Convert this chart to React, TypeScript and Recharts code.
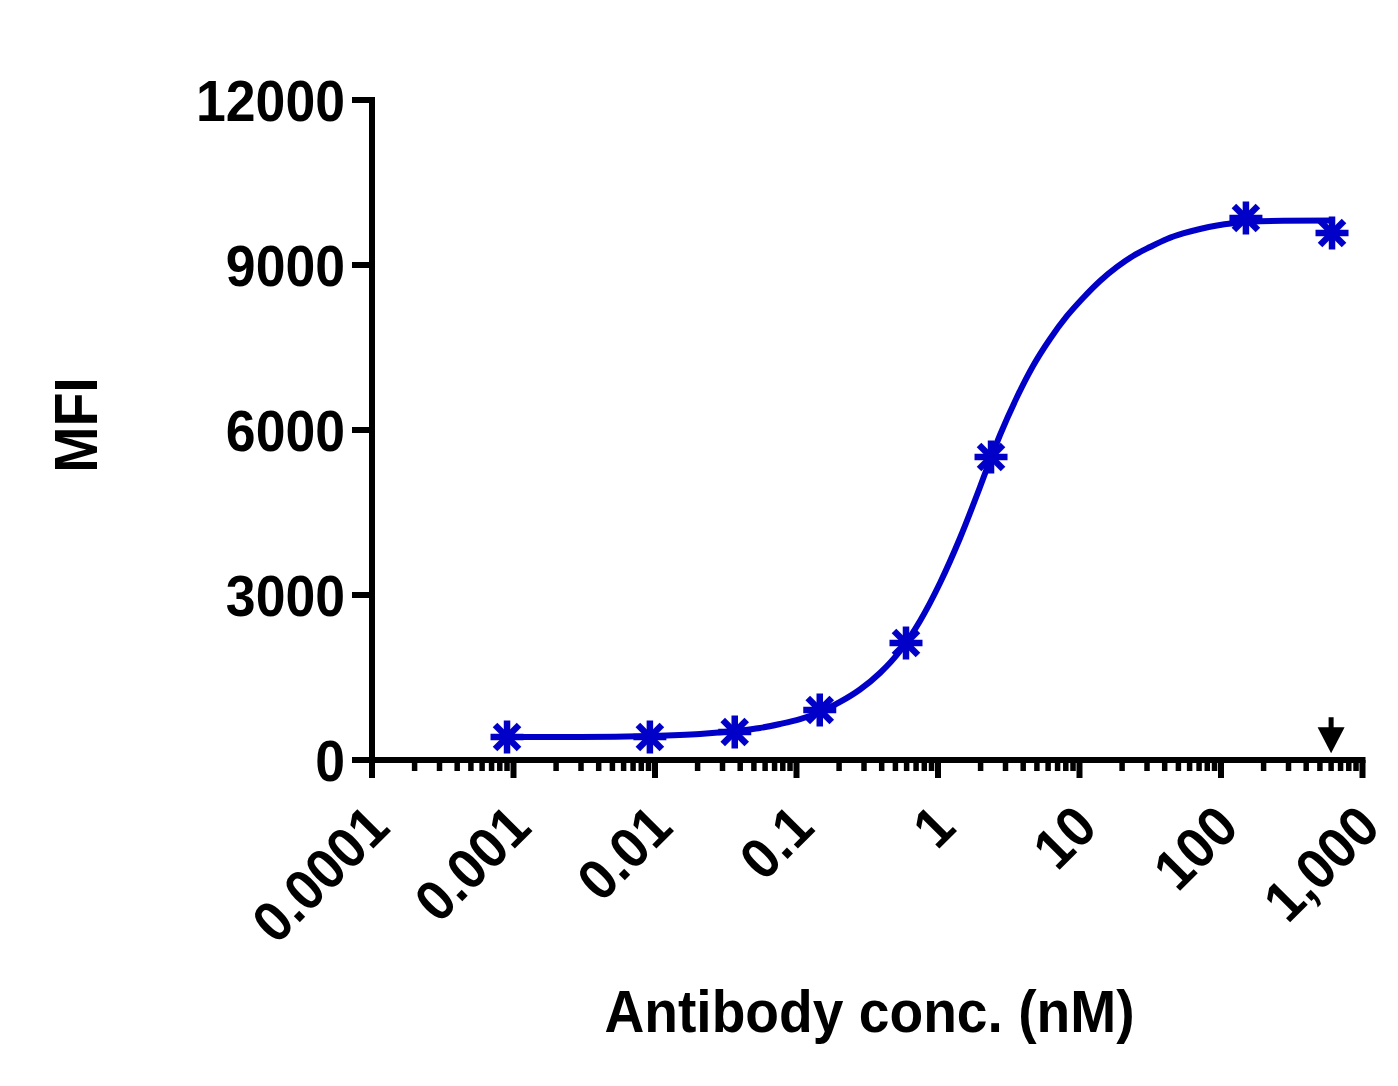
import React from "react";
import { ComposedChart, Line, Scatter, XAxis, YAxis, Label } from "recharts";

// Data
const pointConc = [0.0009, 0.0092, 0.0366, 0.146, 0.594, 2.37, 150, 609];
const pointMFI = [418, 418, 509, 909, 2127, 5509, 9855, 9582];

// Fitted curve
const curveConc = [
  0.0009, 0.00295, 0.00922, 0.0208, 0.0368, 0.0552, 0.0764, 0.106, 0.147, 0.203,
  0.281, 0.389, 0.539, 0.746, 1.033, 1.431, 1.981, 2.37, 2.743, 3.617, 4.692,
  6.187, 8.16, 10.59, 13.96, 18.41, 23.88, 31.49, 41.53, 53.87, 71.06, 93.69,
  121.6, 160.3, 274.3, 639,
];
const curveMFI = [
  418, 418, 436, 473, 527, 582, 655, 745, 873, 1055, 1282, 1582, 1982, 2527,
  3218, 4036, 4964, 5500, 5909, 6600, 7164, 7655, 8073, 8400, 8709, 8964, 9164,
  9327, 9473, 9573, 9655, 9718, 9758, 9785, 9804, 9809,
];

const isotypeConc = [600];
const isotypeMFI = [450];

const xMajorTicks = [0.0001, 0.001, 0.01, 0.1, 1, 10, 100, 1000];
const xMajorLabels = ["0.0001", "0.001", "0.01", "0.1", "1", "10", "100", "1,000"];
const minorMultipliers = [2, 3, 4, 5, 6, 7, 8, 9];
const yTicks = [0, 3000, 6000, 9000, 12000];

const BLUE = "#0000C8";
const FONT = "'Liberation Sans', Arial, Helvetica, sans-serif";

const pointData = pointConc.map((x, i) => ({ x, y: pointMFI[i] }));
const curveData = curveConc.map((x, i) => ({ x, y: curveMFI[i] }));
const isotypeData = isotypeConc.map((x, i) => ({ x, y: isotypeMFI[i] }));

const allXTicks: number[] = [];
xMajorTicks.forEach((m, i) => {
  allXTicks.push(m);
  if (i < xMajorTicks.length - 1) minorMultipliers.forEach((k) => allXTicks.push(m * k));
});

const majorIndex = (v: number) =>
  xMajorTicks.findIndex((m) => Math.abs(m - v) / m < 1e-6);

const XTick = (props: any) => {
  const { x, y, payload } = props;
  const idx = majorIndex(payload.value);
  const major = idx >= 0;
  return (
    <g>
      <line
        x1={x}
        x2={x}
        y1={y}
        y2={y + (major ? 18 : 11)}
        stroke="#000"
        strokeWidth={major ? 6 : 5.5}
      />
      {major && (
        <text
          transform={`translate(${x + 20},${y + 70}) rotate(-45) scale(0.94,1)`}
          textAnchor="end"
          fontSize={57}
          fontWeight="bold"
          fontFamily={FONT}
          fill="#000"
        >
          {xMajorLabels[idx]}
        </text>
      )}
    </g>
  );
};

const YTick = (props: any) => {
  const { x, y, payload } = props;
  return (
    <text
      transform={`translate(${x},${y}) scale(0.94,1)`}
      textAnchor="end"
      dy="0.36em"
      fontSize={57}
      fontWeight="bold"
      fontFamily={FONT}
      fill="#000"
    >
      {payload.value}
    </text>
  );
};

const Star = (props: any) => {
  const { cx, cy } = props;
  if (cx == null || cy == null) return null;
  const r = 16.5;
  const d = 12;
  return (
    <g stroke={BLUE} strokeWidth={6.5}>
      <line x1={cx} y1={cy - r} x2={cx} y2={cy + r} />
      <line x1={cx - r} y1={cy} x2={cx + r} y2={cy} />
      <line x1={cx - d} y1={cy - d} x2={cx + d} y2={cy + d} />
      <line x1={cx - d} y1={cy + d} x2={cx + d} y2={cy - d} />
    </g>
  );
};

const Arrow = (props: any) => {
  const { cx, cy } = props;
  if (cx == null || cy == null) return null;
  return (
    <g fill="#000">
      <rect x={cx - 2.5} y={cy - 18} width={5} height={12} />
      <polygon points={`${cx - 13.5},${cy - 8} ${cx + 13.5},${cy - 8} ${cx},${cy + 18}`} />
    </g>
  );
};

const XTitle = () => (
  <text
    transform={`translate(861.5,1024) scale(0.92,1)`}
    textAnchor="middle"
    fontSize={60}
    fontWeight="bold"
    fontFamily={FONT}
    fill="#000"
  >
    Antibody conc. (nM)
  </text>
);

const YTitle = () => (
  <text
    transform={`translate(89,417) rotate(-90) scale(0.91,1)`}
    textAnchor="middle"
    fontSize={61}
    fontWeight="bold"
    fontFamily={FONT}
    fill="#000"
  >
    MFI
  </text>
);

export default function App() {
  return (
    <div style={{ width: 1382, height: 1070, background: "#fff" }}>
      <ComposedChart
        width={1382}
        height={1070}
        margin={{ top: 92, right: 27.5, left: 0, bottom: 18 }}
      >
        <XAxis
          dataKey="x"
          type="number"
          scale="log"
          domain={[0.0001, 1000]}
          allowDataOverflow
          ticks={allXTicks}
          interval={0}
          tick={<XTick />}
          tickLine={false}
          tickSize={0}
          tickMargin={0}
          height={300}
          axisLine={{ stroke: "#000", strokeWidth: 6, strokeLinecap: "square" }}
          label={<Label content={<XTitle />} />}
        />
        <YAxis
          dataKey="y"
          type="number"
          domain={[0, 12000]}
          allowDataOverflow
          ticks={yTicks}
          interval={0}
          width={364}
          tick={<YTick />}
          tickSize={20}
          tickMargin={7}
          tickLine={{ stroke: "#000", strokeWidth: 6 }}
          axisLine={{ stroke: "#000", strokeWidth: 6, strokeLinecap: "square" }}
          label={<Label content={<YTitle />} />}
        />
        <Line
          data={curveData}
          dataKey="y"
          type="monotone"
          stroke={BLUE}
          strokeWidth={6}
          dot={false}
          activeDot={false}
          isAnimationActive={false}
        />
        <Scatter
          data={pointData}
          dataKey="y"
          shape={<Star />}
          isAnimationActive={false}
        />
        <Scatter
          data={isotypeData}
          dataKey="y"
          shape={<Arrow />}
          isAnimationActive={false}
        />
      </ComposedChart>
    </div>
  );
}
